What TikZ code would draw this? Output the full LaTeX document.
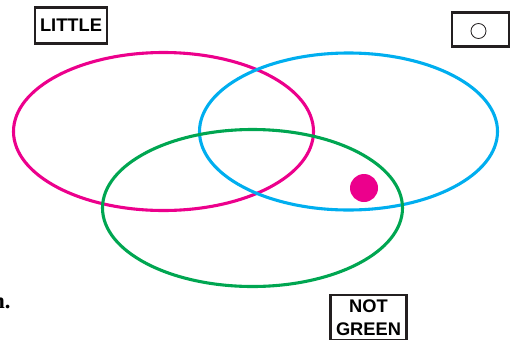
\documentclass[tikz,border=0pt]{standalone}
\usepackage{fontspec}
\setmainfont{Liberation Serif}
\setsansfont{Liberation Sans}
\usepackage{tikz}
\usetikzlibrary{calc}
\definecolor{setMagenta}{RGB}{236, 0, 140}
\definecolor{setCyan}{RGB}{0, 174, 239}
\definecolor{setGreen}{RGB}{0, 166, 81}
\definecolor{boxGray}{RGB}{35, 31, 32}

\begin{document}
\begin{tikzpicture}[x=0.5mm, y=-0.5mm, line width=4.4pt]
    \tikzset{labelbox/.style={draw=boxGray, line width=4.2pt, font=\sffamily\bfseries\fontsize{26}{33}\selectfont, align=center, inner sep=0pt}}
    \useasboundingbox (0,0) rectangle (515,339);
    \coordinate (M) at (163.5,131.5);
    \coordinate (C) at (348.5,131.5);
    \coordinate (G) at (252.5,208);
    \draw[setMagenta] (M) ellipse [x radius=150, y radius=79];
    \draw[setCyan] (C) ellipse [x radius=149, y radius=78.5];
    \draw[setGreen] (G) ellipse [x radius=150, y radius=78.5];
    \fill[setMagenta] (364,188) circle [radius=14];
    \node[labelbox, minimum width=36mm, minimum height=18mm] (little) at (71,25.5) {LITTLE};
    \node[labelbox, minimum width=28.5mm, minimum height=17mm] (shape) at (480.5,29.5) {};
    \node[draw=boxGray, line width=1.2pt, circle, minimum size=7.5mm, inner sep=0pt] (ring) at (478.5,31) {};
    \node[labelbox, anchor=north, minimum width=38mm, inner ysep=2.3mm] (notgreen) at (368.5,293.5) {NOT\\GREEN};
    \node[anchor=base east, font=\bfseries\fontsize{32}{38}\selectfont, inner sep=0pt] (cut) at (12,308) {n.};
\end{tikzpicture}
\end{document}
